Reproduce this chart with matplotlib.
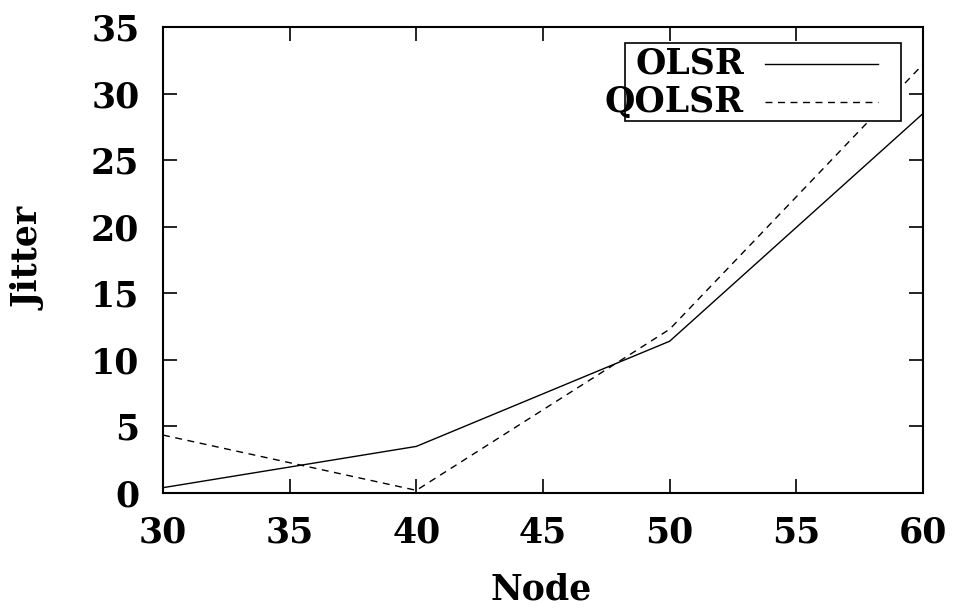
import matplotlib
matplotlib.use("Agg")
import matplotlib.pyplot as plt
from matplotlib.patches import Rectangle
from matplotlib.lines import Line2D

nodes = [30, 40, 50, 60]
olsr = [0.4, 3.5, 11.4, 28.5]
qolsr = [4.35, 0.2, 12.3, 32.2]
xticks = [30, 35, 40, 45, 50, 55, 60]
yticks = [0, 5, 10, 15, 20, 25, 30, 35]

plt.rcParams['font.family'] = ['DejaVu Serif']
plt.rcParams['font.weight'] = 'bold'
fs = 25

fig = plt.figure(figsize=(9.64, 6.10), dpi=100)
L, R, T, B = 163, 923, 27, 493
ax = fig.add_axes([L/964, 1 - B/610, (R-L)/964, (B-T)/610])
ax.plot(nodes, olsr, color='black', lw=1.0, ls='-')
ax.plot(nodes, qolsr, color='black', lw=1.0, ls=(0, (5, 4)))
ax.set_xlim(30, 60)
ax.set_ylim(0, 35)
ax.set_xticks(xticks)
ax.set_yticks(yticks)
ax.tick_params(direction='in', length=10, width=1.2, top=True, right=True,
               labelsize=fs)
ax.tick_params(axis='x', pad=16)
ax.tick_params(axis='y', pad=17)
for lab in ax.get_xticklabels() + ax.get_yticklabels():
    lab.set_fontweight('bold')
for s in ax.spines.values():
    s.set_linewidth(1.5)
ax.set_xlabel('Node', fontsize=fs, fontweight='bold')
ax.set_ylabel('Jitter', fontsize=fs, fontweight='bold')
ax.xaxis.set_label_coords((541 - L) / (R - L), (B - 589) / (B - T))
ax.yaxis.set_label_coords((29 - L) / (R - L), (B - 259) / (B - T))
ax.xaxis.label.set_va('center')
ax.yaxis.label.set_va('center')

def ax_xy(px, py):
    return ((px - L) / (R - L), (B - py) / (B - T))

x0, y0 = ax_xy(625, 121)
x1, y1 = ax_xy(901, 43)
ax.add_patch(Rectangle((x0, y0), x1 - x0, y1 - y0, transform=ax.transAxes,
                       fill=True, facecolor='white', edgecolor='black', lw=1.2, zorder=5))
labels = ['OLSR', 'QOLSR']
styles = ['-', (0, (5, 4))]
rows = [64, 102]
for lab, st, py in zip(labels, styles, rows):
    tx, ty = ax_xy(744, py)
    ax.text(tx, ty, lab, transform=ax.transAxes, ha='right', va='center',
            fontsize=fs, fontweight='bold', zorder=6)
    lx0, ly = ax_xy(765, py)
    lx1, _ = ax_xy(878, py)
    ax.add_line(Line2D([lx0, lx1], [ly, ly], transform=ax.transAxes,
                       color='black', lw=1.0, ls=st, zorder=6))

fig.savefig('out.png', dpi=100)
